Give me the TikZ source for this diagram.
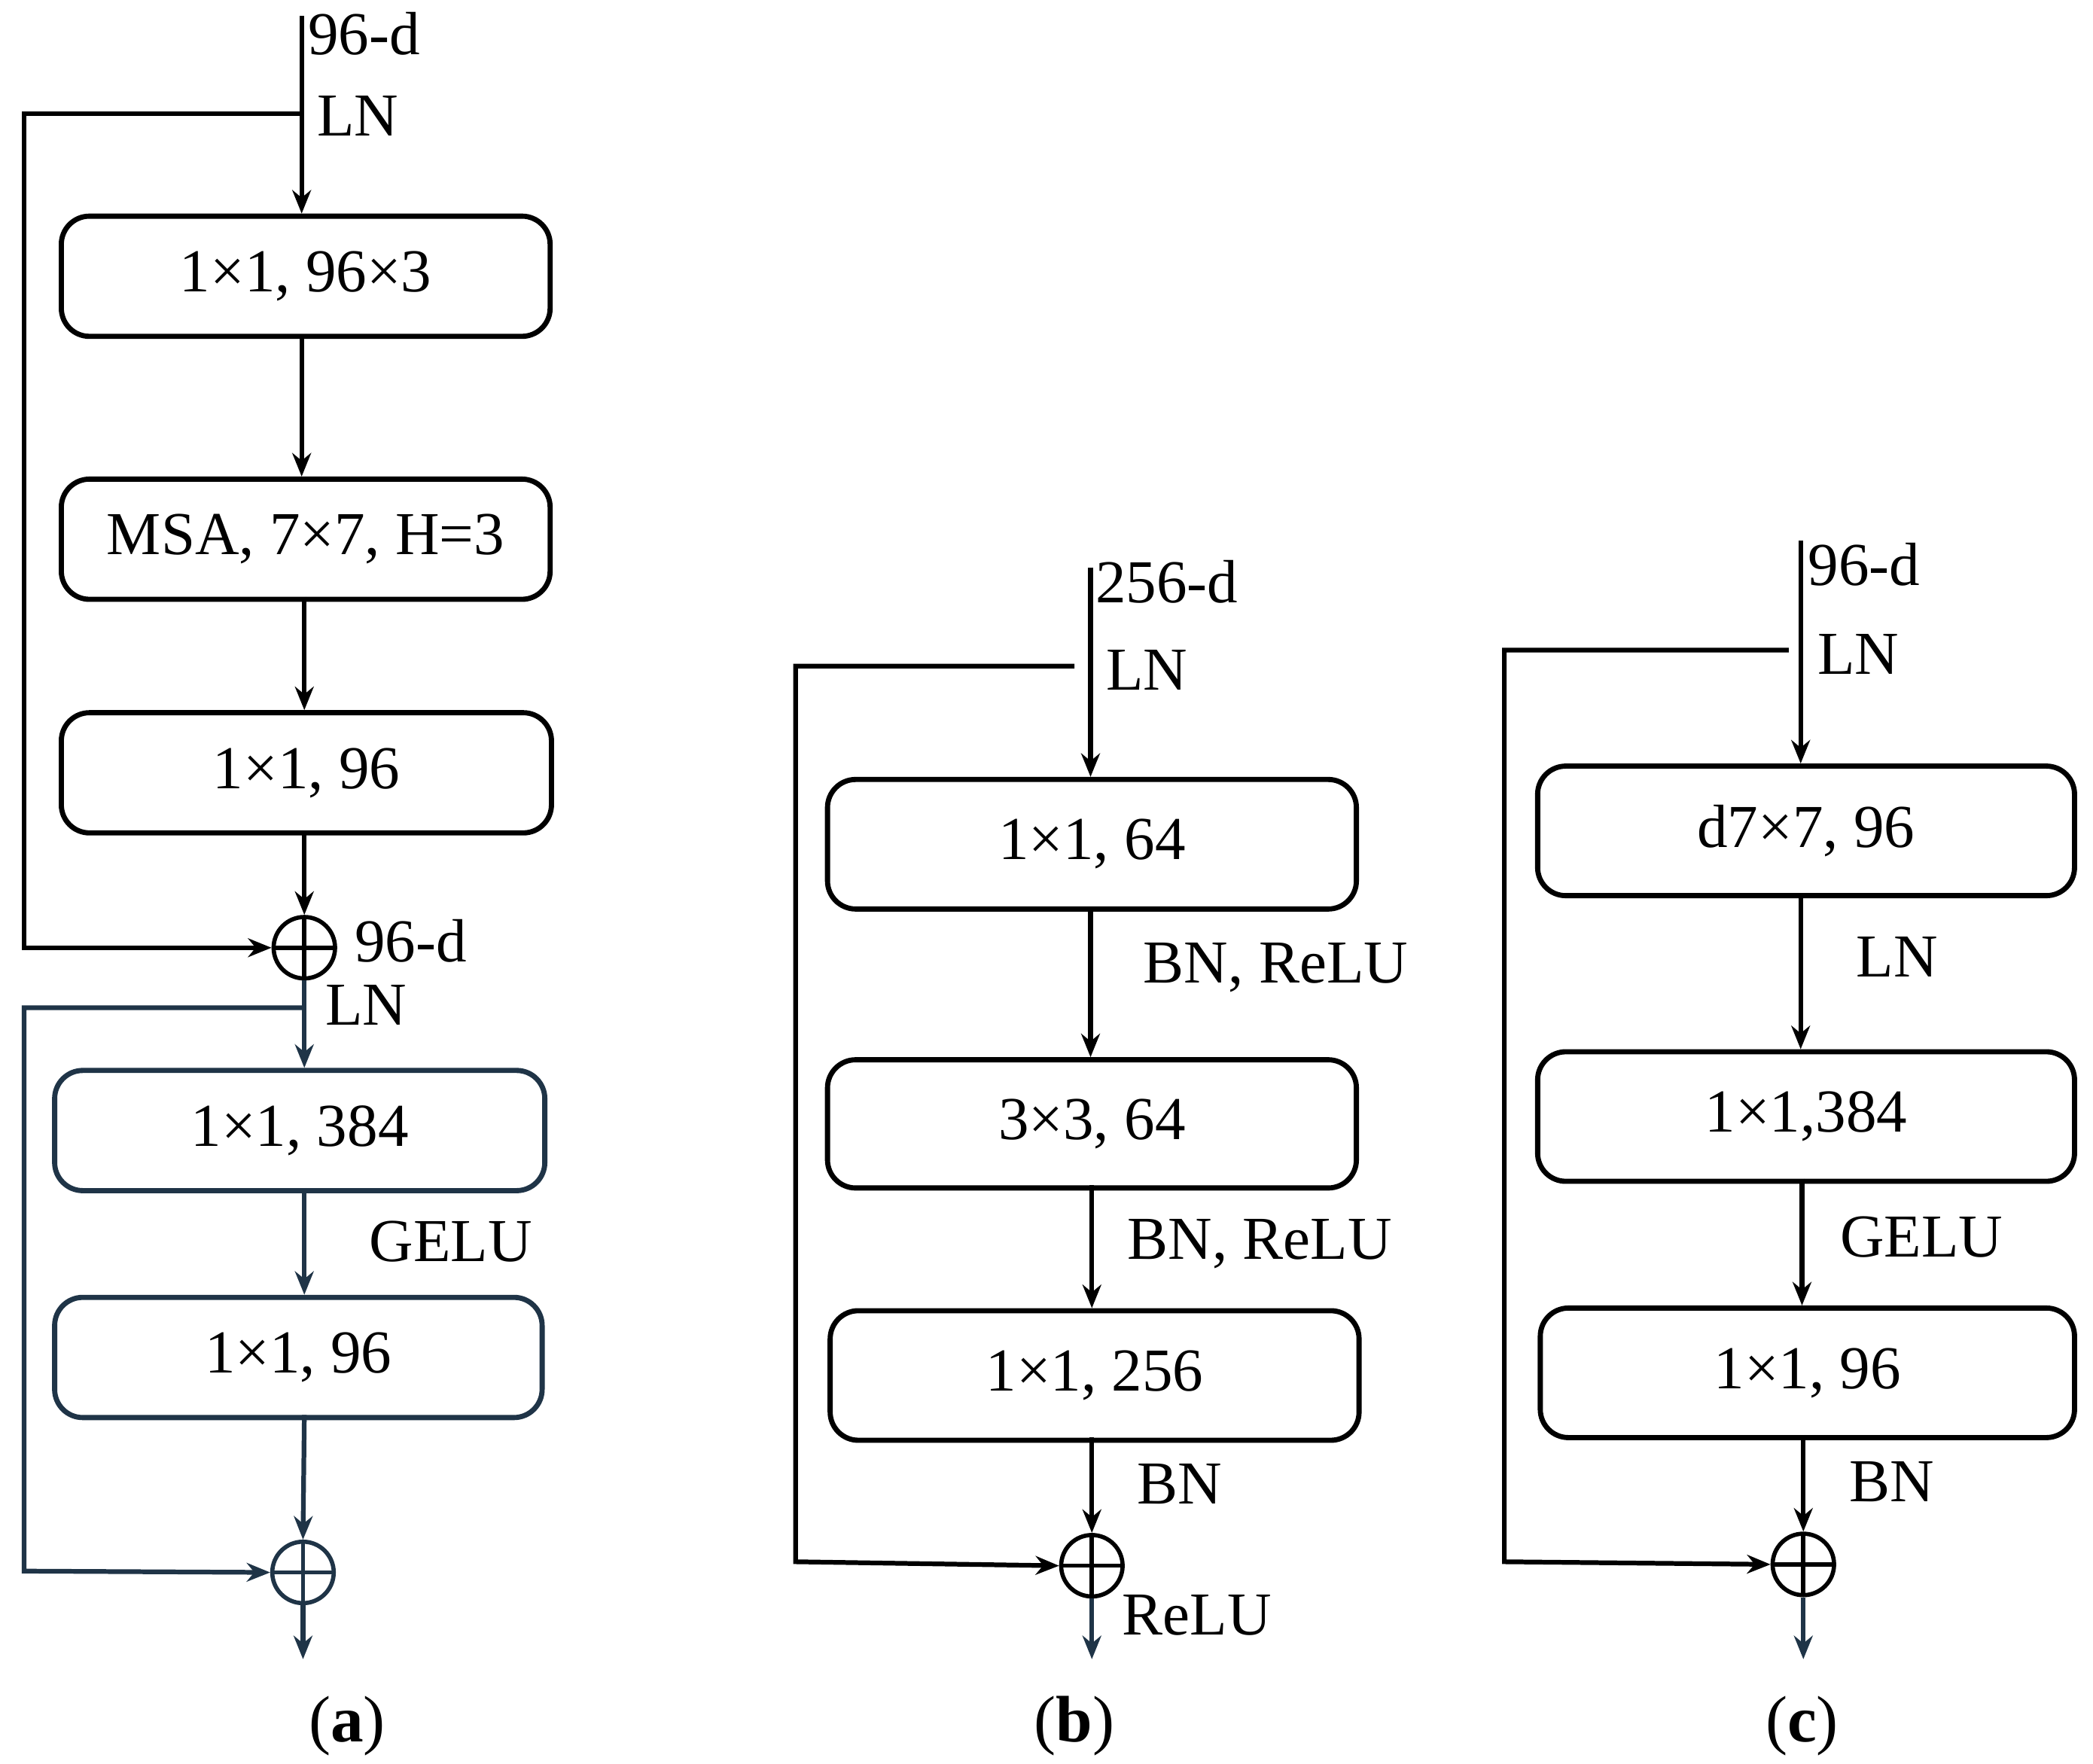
\documentclass[tikz,border=0pt]{standalone}
\usepackage{fontspec}
\setmainfont{Liberation Serif}
\usetikzlibrary{arrows.meta}
\begin{document}
\begin{tikzpicture}[x=0.01cm,y=-0.01cm,
 box/.style={draw,line width=1.1pt,rounded corners=6pt,anchor=north west,inner sep=0pt,font=\fontsize{13}{15}\selectfont},
 lab/.style={anchor=west,inner sep=0pt,font=\fontsize{13}{15}\selectfont},
 sum/.style={draw,circle,line width=0.9pt,minimum size=0.46cm,inner sep=0pt,path picture={\draw[line width=0.9pt] (path picture bounding box.north)--(path picture bounding box.south)(path picture bounding box.west)--(path picture bounding box.east);}},
 ar/.style={line width=1pt,-{Stealth[length=5pt,width=4pt]}},
 captxt/.style={font=\fontsize{14}{16}\selectfont}]
\useasboundingbox (0,0) rectangle (1568,1321);
\definecolor{nv}{HTML}{1F3447}
% ---------- (a)
\coordinate (a0) at (226,12);
\coordinate (as) at (226,85);
\node[box,minimum width=3.66cm,minimum height=0.9cm] (a1) at (44,160) {1×1, 96×3};
\node[box,minimum width=3.66cm,minimum height=0.9cm] (a2) at (44,357) {MSA, 7×7, H=3};
\node[box,minimum width=3.67cm,minimum height=0.9cm] (a3) at (44,532) {1×1, 96};
\node[sum] (ap1) at (228,710) {};
\node[box,draw=nv,minimum width=3.67cm,minimum height=0.9cm] (a4) at (39,800) {1×1, 384};
\node[box,draw=nv,minimum width=3.65cm,minimum height=0.9cm] (a5) at (39,970) {1×1, 96};
\node[sum,draw=nv] (ap2) at (227,1178) {};
\coordinate (aend) at (227,1243);
\coordinate (as2) at (228,755);
\node[lab] (t1) at (230,25) {96-d};
\node[lab] (t2) at (237,87) {LN};
\node[lab] (t3) at (265,705) {96-d};
\node[lab] (t4) at (243,753) {LN};
\node[lab] (t5) at (276,930) {GELU};
\node[captxt] (ca) at (260,1293) {(\textbf{a})};
\draw[ar] (a0) -- (a1.north -| a0);
\draw[ar] (a1.south -| a0) -- (a2.north -| a0);
\draw[ar] (228,447) -- (228,532);
\draw[ar] (228,622) -- (ap1.north);
\draw[ar] (as) -- (18,85) -- (18,710) -- (ap1.west);
\draw[ar,draw=nv] (ap1.south) -- (228,800);
\draw[ar,draw=nv] (as2) -- (18,755) -- (18,1177) -- (ap2.west);
\draw[ar,draw=nv] (228,890) -- (228,970);
\draw[ar,draw=nv] (228,1060) -- (ap2.north);
\draw[ar,draw=nv] (ap2.south) -- (aend);
% ---------- (b)
\coordinate (b0) at (817,425);
\node[box,minimum width=3.96cm,minimum height=0.97cm] (b1) at (618,582) {1×1, 64};
\node[box,minimum width=3.96cm,minimum height=0.96cm] (b2) at (618,792) {3×3, 64};
\node[box,minimum width=3.96cm,minimum height=0.97cm] (b3) at (620,980) {1×1, 256};
\node[sum] (bp) at (818,1173) {};
\coordinate (bend) at (818,1243);
\node[lab] at (820,436) {256-d};
\node[lab] at (828,502) {LN};
\node[lab] at (856,725) {BN, ReLU};
\node[lab] at (844,932) {BN, ReLU};
\node[lab] at (851,1112) {BN};
\node[lab] at (840,1210) {ReLU};
\node[captxt] (cb) at (805,1293) {(\textbf{b})};
\draw[ar] (b0) -- (817,582);
\draw[ar] (817,679) -- (817,792);
\draw[ar] (818,888) -- (818,980);
\draw[ar] (818,1077) -- (bp.north);
\draw[ar] (805,499) -- (596,499) -- (596,1170) -- (bp.west);
\draw[ar,draw=nv] (bp.south) -- (bend);
% ---------- (c)
\coordinate (c0) at (1349,405);
\node[box,minimum width=4.02cm,minimum height=0.97cm] (c1) at (1150,572) {d7×7, 96};
\node[box,minimum width=4.02cm,minimum height=0.97cm] (c2) at (1150,786) {1×1,384};
\node[box,minimum width=4.0cm,minimum height=0.97cm] (c3) at (1152,978) {1×1, 96};
\node[sum] (cp) at (1351,1172) {};
\coordinate (cend) at (1351,1243);
\node[lab] at (1354,423) {96-d};
\node[lab] at (1361,490) {LN};
\node[lab] at (1390,717) {LN};
\node[lab] at (1378,927) {GELU};
\node[lab] at (1385,1110) {BN};
\node[captxt] (cc) at (1350,1293) {(\textbf{c})};
\draw[ar] (c0) -- (1349,572);
\draw[ar] (1349,669) -- (1349,786);
\draw[ar] (1350,883) -- (1350,978);
\draw[ar] (1351,1075) -- (cp.north);
\draw[ar] (1340,487) -- (1127,487) -- (1127,1170) -- (cp.west);
\draw[ar,draw=nv] (cp.south) -- (cend);
\end{tikzpicture}
\end{document}
